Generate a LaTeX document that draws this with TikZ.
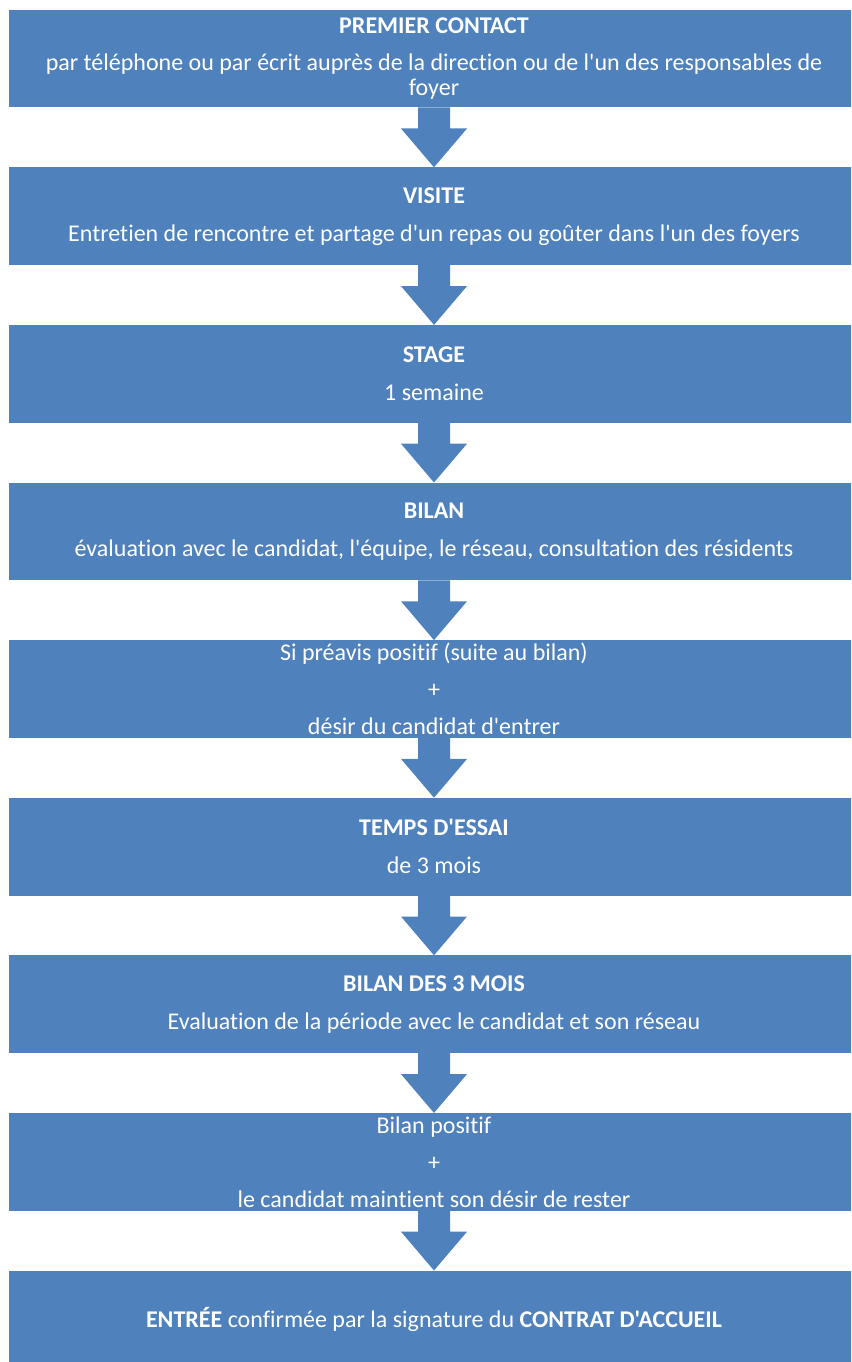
\documentclass[tikz,border=0pt]{standalone}
\usepackage{fontspec}
\setmainfont{Carlito}[Ligatures={TeXOff,NoCommon}]
\usetikzlibrary{positioning,calc}
\definecolor{bleu}{RGB}{79,129,189}
% grosse fleche pleine entre deux etapes
\newcommand{\fleche}[2]{%
  \fill[bleu] ($(#1.south)+(-16,0)$) -- ($(#1.south)+(-16,-21)$)
    -- ($(#1.south)+(-33,-21)$) -- (#2.north) -- ($(#1.south)+(33,-21)$)
    -- ($(#1.south)+(16,-21)$) -- ($(#1.south)+(16,0)$) -- cycle;}

\begin{document}
\begin{tikzpicture}[x=1pt,y=1pt,node distance=59.8pt,
    etape/.style={fill=bleu,text=white,align=center,inner sep=0pt,outer sep=0pt,
      minimum width=849.4pt,minimum height=97.8pt,
      font=\fontsize{24}{25}\selectfont}]
  \useasboundingbox (0,0) rectangle (851,-1362);
  \clip (0,0) rectangle (851,-1362);
  \node[etape,anchor=north west] (contact) at (9.3,-9.7)
    {\textbf{PREMIER CONTACT}\\[12pt]
     par téléphone ou par écrit auprès de la direction ou de l'un des responsables de\\
     foyer};
  \node[etape,below=of contact] (visite)
    {\textbf{VISITE}\\[13pt]
     Entretien de rencontre et partage d'un repas ou goûter dans l'un des foyers};
  \node[etape,below=of visite] (stage)
    {\textbf{STAGE}\\[13pt] 1 semaine};
  \node[etape,below=of stage] (bilan)
    {\textbf{BILAN}\\[13pt]
     évaluation avec le candidat, l'équipe, le réseau, consultation des résidents};
  \node[etape,below=of bilan] (preavis)
    {Si préavis positif (suite au bilan)\\[12pt] +\\[12pt] désir du candidat d'entrer};
  \node[etape,below=of preavis] (essai)
    {\textbf{TEMPS D'ESSAI}\\[13pt] de 3 mois};
  \node[etape,below=of essai] (bilantrois)
    {\textbf{BILAN DES 3 MOIS}\\[13pt]
     Evaluation de la période avec le candidat et son réseau};
  \node[etape,below=of bilantrois] (positif)
    {Bilan positif\\[12pt] +\\[12pt] le candidat maintient son désir de rester};
  \node[etape,below=of positif] (entree)
    {\textbf{ENTRÉE} confirmée par la signature du \textbf{CONTRAT D'ACCUEIL}};
  \foreach \a/\b in {contact/visite,visite/stage,stage/bilan,bilan/preavis,
      preavis/essai,essai/bilantrois,bilantrois/positif,positif/entree}
    \fleche{\a}{\b};
\end{tikzpicture}
\end{document}
